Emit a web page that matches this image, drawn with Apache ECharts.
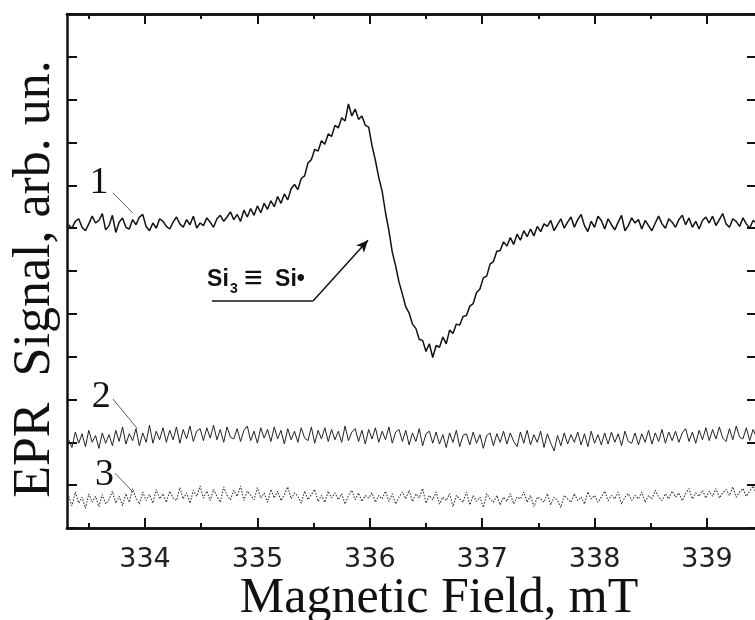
<!DOCTYPE html>
<html>
<head>
<meta charset="utf-8">
<script src="https://cdn.jsdelivr.net/npm/echarts@6/dist/echarts.min.js"></script>
<style>
  html, body { margin: 0; padding: 0; background: #fff; }
  #chart { width: 755px; height: 620px; }
</style>
</head>
<body>
<div id="chart"></div>
<script>
// field grid of the recorded spectra (mT)
const FIELD_START = 333.32
const FIELD_STEP = 0.03

// axis range + ticks
const X_MIN = 333.306
const X_MAX = 339.445
const MAJOR_TICKS = [334, 335, 336, 337, 338, 339]
const MINOR_TICKS = [333.5, 334.5, 335.5, 336.5, 337.5, 338.5]

// spectrum 1 (Si3≡Si• signal), arb. units
const CURVE_1 = [
  7.08, 7.00, 7.16, 7.22, 7.02, 6.94, 7.10, 7.28, 7.12, 7.18,
  7.34, 6.96, 7.06, 7.30, 6.90, 7.14, 7.24, 7.02, 6.98, 7.20,
  7.08, 7.26, 7.32, 7.04, 6.94, 7.12, 7.00, 7.22, 7.16, 7.04,
  6.98, 7.14, 7.26, 7.10, 7.02, 7.20, 7.08, 7.28, 7.00, 7.12,
  7.06, 7.24, 7.14, 7.02, 7.22, 7.30, 7.16, 7.26, 7.38, 7.20,
  7.32, 7.16, 7.42, 7.26, 7.46, 7.30, 7.52, 7.36, 7.58, 7.44,
  7.64, 7.50, 7.74, 7.58, 7.80, 7.66, 7.92, 8.02, 7.90, 8.16,
  8.22, 8.52, 8.60, 8.84, 8.80, 9.04, 8.96, 9.20, 9.14, 9.40,
  9.34, 9.58, 9.50, 9.90, 9.62, 9.78, 9.54, 9.62, 9.40, 9.36,
  8.92, 8.58, 8.18, 7.86, 7.36, 6.94, 6.44, 6.12, 5.74, 5.46,
  5.16, 5.02, 4.76, 4.66, 4.40, 4.38, 4.12, 4.30, 3.98, 4.26,
  4.22, 4.46, 4.30, 4.62, 4.54, 4.76, 4.74, 4.94, 4.96, 5.18,
  5.24, 5.50, 5.58, 5.84, 5.88, 6.16, 6.22, 6.46, 6.48, 6.68,
  6.58, 6.78, 6.62, 6.86, 6.72, 6.94, 6.80, 6.98, 6.82, 7.04,
  6.92, 7.10, 7.04, 7.18, 6.94, 7.08, 7.22, 7.00, 7.14, 7.26,
  7.02, 7.20, 7.32, 7.06, 6.92, 7.16, 7.02, 7.28, 7.18, 6.98,
  7.22, 7.08, 6.96, 7.14, 7.30, 6.94, 7.06, 7.24, 7.12, 7.20,
  6.98, 7.18, 7.06, 6.94, 7.12, 7.28, 7.10, 7.00, 7.22, 7.14,
  7.02, 7.20, 7.30, 7.08, 7.24, 7.02, 7.16, 6.98, 7.18, 7.26,
  7.12, 7.28, 7.06, 7.20, 7.34, 7.10, 7.02, 7.22, 7.16, 7.04,
  7.24, 7.10, 7.00, 7.18, 7.12
]

// spectrum 2
const CURVE_2 = [
  2.06, 1.88, 2.24, 1.98, 2.20, 1.90, 2.28, 2.00, 2.16, 1.86,
  2.22, 1.98, 2.18, 1.92, 2.28, 2.02, 2.36, 1.96, 2.20, 2.04,
  2.32, 1.92, 2.22, 2.00, 2.40, 1.98, 2.26, 2.06, 2.34, 2.00,
  2.28, 2.06, 2.36, 1.98, 2.30, 2.08, 2.38, 2.02, 2.26, 2.32,
  2.04, 2.34, 2.10, 2.40, 2.06, 2.30, 2.00, 2.36, 2.12, 2.08,
  2.32, 2.02, 2.28, 2.38, 2.04, 2.26, 1.98, 2.34, 2.10, 2.30,
  2.02, 2.36, 2.08, 2.28, 1.96, 2.32, 2.06, 2.26, 2.00, 2.34,
  2.10, 2.04, 2.36, 1.98, 2.28, 2.08, 2.34, 2.02, 2.30, 2.06,
  2.26, 2.00, 2.38, 2.04, 2.24, 2.32, 2.02, 2.28, 1.96, 2.30,
  2.08, 2.34, 2.00, 2.26, 2.06, 2.36, 1.98, 2.24, 2.30, 2.02,
  2.28, 1.94, 2.22, 2.02, 2.32, 1.92, 2.20, 2.26, 1.98, 2.24,
  1.96, 2.18, 1.88, 2.22, 2.00, 2.28, 1.90, 2.16, 2.20, 1.94,
  2.24, 1.98, 2.18, 1.86, 2.16, 2.22, 1.92, 2.20, 2.00, 2.26,
  1.96, 2.22, 2.02, 1.90, 2.24, 1.98, 2.28, 1.94, 2.18, 2.00,
  2.26, 1.88, 2.20, 1.98, 1.80, 2.16, 1.92, 2.22, 1.96, 2.18,
  2.00, 2.24, 1.94, 2.20, 1.90, 2.26, 1.98, 2.18, 1.94, 2.22,
  1.96, 2.24, 2.00, 2.20, 1.92, 2.26, 2.02, 1.98, 2.22, 1.94,
  2.20, 2.00, 2.28, 1.96, 2.22, 2.02, 2.30, 1.98, 2.24, 2.04,
  2.26, 2.00, 2.22, 2.32, 2.02, 2.24, 1.98, 2.28, 2.06, 2.34,
  2.04, 2.30, 2.08, 2.36, 2.10, 2.02, 2.32, 2.06, 2.38, 2.12,
  2.08, 2.34, 2.04, 2.30, 2.12
]

// spectrum 3
const CURVE_3 = [
  0.74, 0.52, 0.84, 0.58, 0.72, 0.46, 0.80, 0.60, 0.74, 0.50,
  0.78, 0.56, 0.66, 0.86, 0.58, 0.74, 0.52, 0.80, 0.60, 0.92,
  0.70, 0.56, 0.84, 0.64, 0.78, 0.58, 0.90, 0.68, 0.80, 0.60,
  0.86, 0.70, 0.64, 0.94, 0.68, 0.82, 0.58, 0.88, 0.74, 0.98,
  0.70, 0.86, 0.64, 0.90, 0.74, 0.60, 0.96, 0.76, 0.66, 0.88,
  0.74, 0.98, 0.64, 0.86, 0.76, 0.66, 0.94, 0.70, 0.82, 0.60,
  0.90, 0.70, 0.86, 0.64, 0.78, 0.96, 0.68, 0.82, 0.74, 0.58,
  0.86, 0.66, 0.78, 0.90, 0.62, 0.76, 0.60, 0.86, 0.70, 0.82,
  0.66, 0.80, 0.56, 0.76, 0.88, 0.66, 0.82, 0.62, 0.76, 0.70,
  0.82, 0.60, 0.76, 0.68, 0.86, 0.62, 0.80, 0.56, 0.72, 0.84,
  0.68, 0.88, 0.62, 0.80, 0.70, 0.92, 0.58, 0.76, 0.66, 0.84,
  0.56, 0.72, 0.64, 0.80, 0.50, 0.76, 0.68, 0.60, 0.84, 0.54,
  0.76, 0.62, 0.72, 0.48, 0.80, 0.68, 0.60, 0.76, 0.54, 0.72,
  0.62, 0.80, 0.56, 0.72, 0.68, 0.84, 0.60, 0.76, 0.50, 0.72,
  0.68, 0.60, 0.80, 0.54, 0.72, 0.64, 0.48, 0.76, 0.68, 0.60,
  0.80, 0.64, 0.72, 0.56, 0.84, 0.68, 0.76, 0.60, 0.72, 0.86,
  0.64, 0.76, 0.68, 0.84, 0.56, 0.72, 0.80, 0.64, 0.76, 0.68,
  0.84, 0.60, 0.76, 0.68, 0.88, 0.72, 0.64, 0.80, 0.68, 0.86,
  0.72, 0.82, 0.64, 0.80, 0.92, 0.68, 0.82, 0.74, 0.88, 0.70,
  0.86, 0.74, 0.92, 0.70, 0.82, 0.90, 0.76, 0.96, 0.72, 0.84,
  0.92, 0.74, 0.86, 0.98, 0.80
]

// curve numbers and their leader lines (data units)
const CURVE_LABELS = ['1', '2', '3']
const LABEL_POS = [[333.59, 8.05], [333.61, 3.06], [333.64, 1.24]]
const LEADERS = [
  [[333.715, 7.82], [333.893, 7.35]],
  [[333.715, 3.01], [333.929, 2.33]],
  [[333.733, 1.28], [333.893, 0.84]]
]

// Si3≡Si• callout
const ANNOT_POS = [334.552, 5.79]
const UNDERLINE = [[334.596, 5.30], [335.495, 5.30]]
const ARROW = [[335.495, 5.30], [335.984, 6.72]]

const pair = arr => arr.map((v, i) => [+(FIELD_START + i * FIELD_STEP).toFixed(2), v])

const chart = echarts.init(document.getElementById('chart'))

const AXIS_COLOR = '#111'
const lineStyle = { color: AXIS_COLOR, width: 2.5 }

function xAx(position, ticks, len, withLabel) {
  return {
    type: 'value',
    position,
    min: X_MIN,
    max: X_MAX,
    axisLine: { show: true, lineStyle },
    axisTick: { show: true, inside: true, length: len, customValues: ticks, lineStyle: { color: AXIS_COLOR, width: 2 } },
    axisLabel: withLabel
      ? { show: true, customValues: ticks, fontFamily: 'DejaVu Sans', fontSize: 27, color: '#222', margin: 18 }
      : { show: false },
    splitLine: { show: false }
  }
}

const bottomMajor = xAx('bottom', MAJOR_TICKS, 10, true)
bottomMajor.name = 'Magnetic Field, mT'
bottomMajor.nameLocation = 'middle'
bottomMajor.nameGap = 46
bottomMajor.nameMoveOverlap = false
bottomMajor.nameTextStyle = { fontFamily: 'Liberation Serif', fontSize: 50, color: '#111', padding: [0, 0, 0, 54] }

function yAx(position, withName) {
  const ax = {
    type: 'value',
    position,
    min: 0,
    max: 12,
    interval: 1,
    axisLine: { show: true, lineStyle },
    axisTick: { show: true, inside: true, length: 10, lineStyle: { color: AXIS_COLOR, width: 2 } },
    axisLabel: { show: false },
    splitLine: { show: false }
  }
  if (withName) {
    ax.name = 'EPR  Signal, arb. un.'
    ax.nameLocation = 'middle'
    ax.nameGap = 6
    ax.nameTextStyle = { fontFamily: 'Liberation Serif', fontSize: 52, color: '#111', padding: [0, 16, 0, 0] }
  }
  return ax
}

const thin = { color: '#333', width: 0.8, type: 'solid' }

const option = {
  animation: false,
  backgroundColor: '#fff',
  grid: { left: 67, right: -2, top: 14, bottom: 92, containLabel: false, outerBoundsMode: 'none' },
  xAxis: [
    bottomMajor,
    xAx('bottom', MINOR_TICKS, 5, false),
    xAx('top', MAJOR_TICKS, 10, false),
    xAx('top', MINOR_TICKS, 5, false)
  ],
  yAxis: [yAx('left', true), yAx('right', false)],
  series: [
    {
      name: '1',
      type: 'line',
      symbol: 'none',
      lineStyle: { color: '#111', width: 1.5 },
      data: pair(CURVE_1),
      markLine: {
        silent: true,
        animation: false,
        symbol: ['none', 'none'],
        label: { show: false },
        lineStyle: thin,
        data: [
          [{ coord: LEADERS[0][0] }, { coord: LEADERS[0][1] }],
          [{ coord: UNDERLINE[0], lineStyle: { color: '#111', width: 1.5, type: 'solid' } },
           { coord: UNDERLINE[1] }],
          [{ coord: ARROW[0], lineStyle: { color: '#111', width: 1.5, type: 'solid' } },
           { coord: ARROW[1], symbol: 'arrow', symbolSize: [8, 12] }]
        ]
      }
    },
    {
      name: '2',
      type: 'line',
      symbol: 'none',
      lineStyle: { color: '#222', width: 1 },
      data: pair(CURVE_2),
      markLine: {
        silent: true,
        animation: false,
        symbol: ['none', 'none'],
        label: { show: false },
        lineStyle: thin,
        data: [[{ coord: LEADERS[1][0] }, { coord: LEADERS[1][1] }]]
      }
    },
    {
      name: '3',
      type: 'line',
      symbol: 'none',
      lineStyle: { color: '#333', width: 1.1, type: [1.5, 1.5] },
      data: pair(CURVE_3),
      markLine: {
        silent: true,
        animation: false,
        symbol: ['none', 'none'],
        label: { show: false },
        lineStyle: thin,
        data: [[{ coord: LEADERS[2][0] }, { coord: LEADERS[2][1] }]]
      }
    }
  ]
}

chart.setOption(option)

// text labels placed from data coordinates
const toPx = p => chart.convertToPixel({ xAxisIndex: 0, yAxisIndex: 0 }, p)
const graphics = CURVE_LABELS.map((t, i) => {
  const p = toPx(LABEL_POS[i])
  return {
    type: 'text', x: p[0], y: p[1], silent: true,
    style: { text: t, font: '38px "Liberation Serif"', fill: '#111', align: 'center', verticalAlign: 'middle' }
  }
})
const a = toPx(ANNOT_POS)
const boldSans = size => 'bold ' + size + 'px "Liberation Sans", Arial, sans-serif'
graphics.push(
  { type: 'text', x: a[0], y: a[1], silent: true,
    style: { text: 'Si', font: boldSans(23), fill: '#111', align: 'left', verticalAlign: 'middle' } },
  { type: 'text', x: a[0] + 23, y: a[1] + 9, silent: true,
    style: { text: '3', font: boldSans(14), fill: '#111', align: 'left', verticalAlign: 'middle' } },
  { type: 'text', x: a[0] + 37, y: a[1] - 1, silent: true,
    style: { text: '\u2261', font: '32px "Liberation Sans", Arial, sans-serif', fill: '#111', align: 'left', verticalAlign: 'middle' } },
  { type: 'text', x: a[0] + 68, y: a[1], silent: true,
    style: { text: 'Si\u2022', font: boldSans(23), fill: '#111', align: 'left', verticalAlign: 'middle' } }
)
chart.setOption({ graphic: graphics })

window.addEventListener('resize', () => chart.resize())
</script>
</body>
</html>
